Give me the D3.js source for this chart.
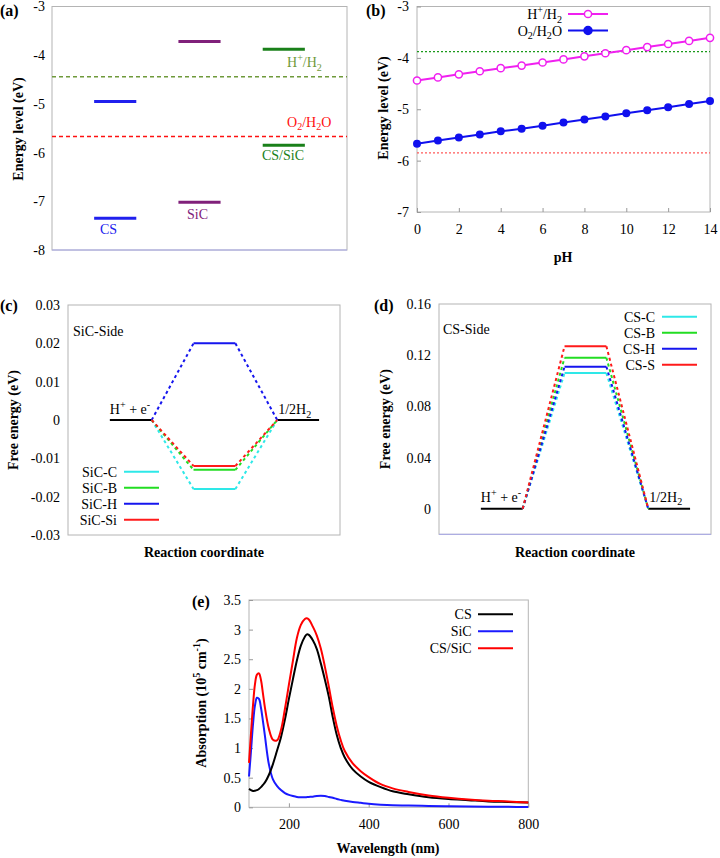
<!DOCTYPE html>
<html><head><meta charset="utf-8">
<script src="https://cdn.jsdelivr.net/npm/d3@7"></script>
<style>body{margin:0;background:#fff} svg{display:block}</style>
</head><body><svg id="c" width="720" height="858"></svg>
<script>
// ---------------- DATA ----------------
// (a) band edges
const materials = ["CS", "SiC", "CS/SiC"];
const cbm = [-4.95, -3.72, -3.88];
const vbm = [-7.35, -7.02, -5.85];
const redoxLevels = [-4.44, -5.67];           // H+/H2, O2/H2O at pH 0
const redoxNames = ["H^{+}/H_{2}", "O_{2}/H_{2}O"];
const aTicks = [-3, -4, -5, -6, -7, -8];

// (b) redox potentials vs pH
const pH = [0,1,2,3,4,5,6,7,8,9,10,11,12,13,14];
const hH2 = [-4.44,-4.38,-4.32,-4.26,-4.20,-4.15,-4.09,-4.03,-3.97,-3.91,-3.85,-3.79,-3.73,-3.67,-3.61];
const o2H2O = [-5.67,-5.61,-5.55,-5.49,-5.43,-5.38,-5.32,-5.26,-5.20,-5.14,-5.08,-5.02,-4.96,-4.90,-4.84];
const bRefs = [-3.88, -5.85];
const bXTicks = [0,2,4,6,8,10,12,14];
const bYTicks = [-3,-4,-5,-6,-7];

// (c) SiC side free energy
const sicSites = ["SiC-C", "SiC-B", "SiC-H", "SiC-Si"];
const sicDG = [-0.018, -0.013, 0.020, -0.012];
const cTicks = [0.03, 0.02, 0.01, 0, -0.01, -0.02, -0.03];

// (d) CS side free energy
const csSites = ["CS-C", "CS-B", "CS-H", "CS-S"];
const csDG = [0.106, 0.118, 0.111, 0.127];
const dTicks = [0.16, 0.12, 0.08, 0.04, 0];

// (e) absorption spectra
const wavelength = [100,105,110,115,120,125,130,135,140,150,160,170,180,190,200,210,220,230,240,245,250,260,270,280,290,300,310,320,330,340,360,380,400,430,460,500,550,600,650,700,750,800];
const absCS = [0.31,0.29,0.275,0.28,0.29,0.31,0.34,0.38,0.42,0.55,0.73,0.95,1.18,1.48,1.83,2.16,2.48,2.73,2.88,2.92,2.91,2.82,2.67,2.43,2.16,1.87,1.52,1.22,1.00,0.84,0.64,0.52,0.43,0.34,0.27,0.22,0.17,0.14,0.12,0.10,0.09,0.08];
const absSiC = [0.52,0.95,1.40,1.72,1.85,1.83,1.68,1.45,1.20,0.72,0.47,0.36,0.29,0.24,0.21,0.19,0.175,0.17,0.17,0.172,0.175,0.18,0.19,0.195,0.19,0.175,0.16,0.14,0.125,0.11,0.09,0.075,0.06,0.045,0.035,0.03,0.022,0.017,0.013,0.01,0.008,0.005];
const absCSSiC = [0.75,1.25,1.72,2.08,2.24,2.26,2.15,1.92,1.68,1.32,1.14,1.13,1.30,1.66,2.07,2.47,2.86,3.08,3.18,3.19,3.17,3.05,2.90,2.68,2.38,2.04,1.68,1.37,1.13,0.95,0.74,0.61,0.51,0.39,0.32,0.26,0.20,0.16,0.13,0.11,0.10,0.08];
const eSeries = ["CS", "SiC", "CS/SiC"];
const eXTicks = [200, 400, 600, 800];
const eYTicks = [0,0.5,1,1.5,2,2.5,3,3.5];

// ---------------- STYLES ----------------
const SERIF = '"Liberation Serif","Times New Roman",serif';
const FS = 14;
const matColors = ["#2020ee", "#80207a", "#1a801a"];
const redoxColors = ["#6f9a3b", "#ff1010"];
const siteColors = ["#2ee8e8", "#22dd22", "#1515ee", "#ff1a1a"];
const eColors = ["#000000", "#1a1aff", "#ff0000"];

const svg = d3.select("#c");

function rich(t, s, size) {
  const parts = s.split(/(\^\{[^}]*\}|_\{[^}]*\})/).filter(p => p.length);
  let cur = 0;
  parts.forEach(p => {
    let target = 0, txt = p, small = false;
    if (p.startsWith("^{")) { target = -0.4 * size; txt = p.slice(2, -1); small = true; }
    else if (p.startsWith("_{")) { target = 0.28 * size; txt = p.slice(2, -1); small = true; }
    t.append("tspan").attr("dy", target - cur).attr("font-size", small ? size * 0.72 : size).text(txt);
    cur = target;
  });
  return t;
}
function label(x, y, s, opt = {}) {
  const size = opt.size || FS;
  const t = svg.append("text").attr("x", x).attr("y", y)
    .style("font-family", SERIF).attr("font-size", size)
    .attr("font-weight", opt.bold ? "bold" : "normal")
    .attr("fill", opt.fill || "#000")
    .attr("text-anchor", opt.anchor || "start");
  if (opt.rotate) t.attr("x", null).attr("y", null).attr("transform", `translate(${x},${y}) rotate(-90)`);
  return rich(t, s, size);
}
function frame(x, y, borderColor) {
  const [x0, x1] = x.range(), [y1, y0] = y.range();
  svg.append("rect").attr("x", x0).attr("y", y0).attr("width", x1 - x0).attr("height", y1 - y0)
    .attr("fill", "none").attr("stroke", "#b4b4b4").attr("stroke-width", 1);
  if (borderColor) svg.append("line").attr("x1", x0).attr("x2", x1).attr("y1", y1).attr("y2", y1)
    .attr("stroke", borderColor).attr("stroke-width", 1);
}
function styleAxis(g) {
  g.attr("font-family", null);
  g.select(".domain").remove();
  g.selectAll("text").style("font-family", SERIF).attr("font-size", FS).attr("fill", "#000");
  g.selectAll("line").attr("stroke", "#999");
}
const numFmt = d => (d === 0 ? "0" : String(d));

// ---------------- PANEL (a) ----------------
{
  const x = d3.scaleLinear().domain([0, 7]).range([52, 347]);
  const y = d3.scaleLinear().domain([-8, -3]).range([250, 6.5]);
  frame(x, y, "#a8a8ea");
  svg.append("g").attr("transform", `translate(52,0)`)
    .call(d3.axisLeft(y).tickValues(aTicks).tickSize(0).tickPadding(7).tickFormat(numFmt)).call(styleAxis);
  redoxLevels.forEach((v, i) => {
    svg.append("line").attr("x1", x(0)).attr("x2", x(7)).attr("y1", y(v)).attr("y2", y(v))
      .attr("stroke", redoxColors[i]).attr("stroke-width", 1.5).attr("stroke-dasharray", "4,3");
    label(287, y(v) - 10, redoxNames[i], { fill: redoxColors[i] });
  });
  materials.forEach((m, i) => {
    [cbm[i], vbm[i]].forEach(v => {
      svg.append("line").attr("x1", x(2 * i + 1)).attr("x2", x(2 * i + 2)).attr("y1", y(v)).attr("y2", y(v))
        .attr("stroke", matColors[i]).attr("stroke-width", 3);
    });
  });
  label(100, y(vbm[0]) + 16, materials[0], { fill: matColors[0] });
  label(187, y(vbm[1]) + 17, materials[1], { fill: matColors[1] });
  label(262, y(vbm[2]) + 15, materials[2], { fill: matColors[2] });
  label(23, 129, "Energy level (eV)", { rotate: true, bold: true, anchor: "middle" });
  label(0, 16, "(a)", { bold: true, size: 16 });
}

// ---------------- PANEL (b) ----------------
{
  const x = d3.scaleLinear().domain([0, 14]).range([417, 710]);
  const y = d3.scaleLinear().domain([-7, -3]).range([212, 6.5]);
  frame(x, y);
  svg.append("g").attr("transform", `translate(417,0)`)
    .call(d3.axisLeft(y).tickValues(bYTicks).tickSizeInner(-4).tickSizeOuter(0).tickPadding(8).tickFormat(numFmt)).call(styleAxis);
  svg.append("g").attr("transform", `translate(0,212)`)
    .call(d3.axisBottom(x).tickValues(bXTicks).tickSizeInner(-4).tickSizeOuter(0).tickPadding(12).tickFormat(numFmt)).call(styleAxis);
  const refCol = ["#1a9a1a", "#ff5a5a"];
  bRefs.forEach((v, i) => svg.append("line").attr("x1", x(0)).attr("x2", x(14)).attr("y1", y(v)).attr("y2", y(v))
    .attr("stroke", refCol[i]).attr("stroke-width", 1.2).attr("stroke-dasharray", "2,2"));
  const line = d3.line().x((d, i) => x(pH[i])).y(d => y(d));
  svg.append("path").datum(hH2).attr("d", line).attr("fill", "none").attr("stroke", "#f020f0").attr("stroke-width", 2);
  svg.append("path").datum(o2H2O).attr("d", line).attr("fill", "none").attr("stroke", "#1010ee").attr("stroke-width", 2);
  svg.append("g").selectAll("circle").data(hH2).join("circle")
    .attr("cx", (d, i) => x(pH[i])).attr("cy", d => y(d)).attr("r", 3.6)
    .attr("fill", "#fff").attr("stroke", "#f020f0").attr("stroke-width", 1.5);
  svg.append("g").selectAll("circle").data(o2H2O).join("circle")
    .attr("cx", (d, i) => x(pH[i])).attr("cy", d => y(d)).attr("r", 4).attr("fill", "#1010ee");
  // legend
  const leg = [["H^{+}/H_{2}", "#f020f0", true], ["O_{2}/H_{2}O", "#1010ee", false]];
  leg.forEach((l, i) => {
    const ly = 14 + i * 16.5;
    label(562, ly + 5, l[0], { anchor: "end" });
    svg.append("line").attr("x1", 568).attr("x2", 608).attr("y1", ly).attr("y2", ly).attr("stroke", l[1]).attr("stroke-width", 2);
    svg.append("circle").attr("cx", 588).attr("cy", ly).attr("r", l[2] ? 3.6 : 4)
      .attr("fill", l[2] ? "#fff" : l[1]).attr("stroke", l[1]).attr("stroke-width", 1.5);
  });
  label(388, 108, "Energy level (eV)", { rotate: true, bold: true, anchor: "middle" });
  label(563, 262, "pH", { bold: true, anchor: "middle" });
  label(366, 16, "(b)", { bold: true, size: 16 });
}

// ---------------- PANELS (c) & (d) ----------------
function reactionPanel(cfg) {
  const x = d3.scaleLinear().domain([0, 6.5]).range(cfg.xr);
  const y = d3.scaleLinear().domain(cfg.yd).range(cfg.yr);
  frame(x, y, cfg.border);
  svg.append("g").attr("transform", `translate(${cfg.xr[0]},0)`)
    .call(d3.axisLeft(y).tickValues(cfg.ticks).tickSize(0).tickPadding(8)
      .tickFormat(d => (Math.abs(d) < 1e-9 ? "0" : d3.format(".2f")(d).replace("−", "-")))).call(styleAxis);
  // end states
  [[1, 2], [5, 6]].forEach(s => svg.append("line").attr("x1", x(s[0])).attr("x2", x(s[1]))
    .attr("y1", y(0)).attr("y2", y(0)).attr("stroke", "#000").attr("stroke-width", 2));
  cfg.vals.forEach((v, i) => {
    const c = siteColors[i];
    svg.append("line").attr("x1", x(3)).attr("x2", x(4)).attr("y1", y(v)).attr("y2", y(v)).attr("stroke", c).attr("stroke-width", 2);
    [[2, 0, 3, v], [4, v, 5, 0]].forEach(s => svg.append("line")
      .attr("x1", x(s[0])).attr("y1", y(s[1])).attr("x2", x(s[2])).attr("y2", y(s[3]))
      .attr("stroke", c).attr("stroke-width", 2).attr("stroke-dasharray", "3,3"));
  });
  cfg.names.forEach((n, i) => {
    const ly = cfg.legY + i * 16;
    label(cfg.legTextX, ly + 5, n, { anchor: "end" });
    svg.append("line").attr("x1", cfg.legTextX + 7).attr("x2", cfg.legTextX + 42).attr("y1", ly).attr("y2", ly)
      .attr("stroke", siteColors[i]).attr("stroke-width", 2);
  });
  label(cfg.sideX, cfg.sideY, cfg.side);
  label(x(1), cfg.stateY, "H^{+} + e^{-}");
  label(x(5) + 1, cfg.stateY, "1/2H_{2}");
  label(cfg.yLabX, (cfg.yr[0] + cfg.yr[1]) / 2, "Free energy (eV)", { rotate: true, bold: true, anchor: "middle" });
  label((cfg.xr[0] + cfg.xr[1]) / 2, 557, "Reaction coordinate", { bold: true, anchor: "middle" });
  label(cfg.tagX, 311, cfg.tag, { bold: true, size: 16 });
}
reactionPanel({
  xr: [68, 340], yd: [-0.03, 0.03], yr: [535, 305], ticks: cTicks, vals: sicDG, names: sicSites,
  legY: 471.7, legTextX: 117, side: "SiC-Side", sideX: 73, sideY: 336, stateY: 414,
  yLabX: 18, tagX: 0, tag: "(c)"
});
reactionPanel({
  xr: [439, 711], yd: [-0.02, 0.16], yr: [534.3, 304], ticks: dTicks, vals: csDG, names: csSites,
  legY: 316.7, legTextX: 655, side: "CS-Side", sideX: 443, sideY: 334, stateY: 501.5,
  yLabX: 390, tagX: 374, tag: "(d)", border: "#a8a8ea"
});

// ---------------- PANEL (e) ----------------
{
  const x = d3.scaleLinear().domain([100, 800]).range([249, 528.3]);
  const y = d3.scaleLinear().domain([0, 3.5]).range([807.3, 600]);
  frame(x, y);
  svg.append("g").attr("transform", `translate(249,0)`)
    .call(d3.axisLeft(y).tickValues(eYTicks).tickSizeInner(-4).tickSizeOuter(0).tickPadding(8).tickFormat(d3.format("~g"))).call(styleAxis);
  svg.append("g").attr("transform", `translate(0,807.3)`)
    .call(d3.axisBottom(x).tickValues(eXTicks).tickSizeInner(-4).tickSizeOuter(0).tickPadding(12).tickFormat(d3.format("d"))).call(styleAxis);
  const line = d3.line().x((d, i) => x(wavelength[i])).y(d => y(d)).curve(d3.curveCatmullRom.alpha(0.5));
  [absSiC, absCS, absCSSiC].forEach((s, k) => {
    const idx = [1, 0, 2][k];
    svg.append("path").datum(s).attr("d", line).attr("fill", "none").attr("stroke", eColors[idx]).attr("stroke-width", 2);
  });
  eSeries.forEach((n, i) => {
    const ly = 614.3 + i * 17;
    label(471.7, ly + 5, n, { anchor: "end" });
    svg.append("line").attr("x1", 478).attr("x2", 513).attr("y1", ly).attr("y2", ly).attr("stroke", eColors[i]).attr("stroke-width", 2);
  });
  label(206, 703, "Absorption (10^{5} cm^{-1})", { rotate: true, bold: true, anchor: "middle" });
  label(388, 853, "Wavelength (nm)", { bold: true, anchor: "middle" });
  label(192, 607, "(e)", { bold: true, size: 16 });
}
</script></body></html>
